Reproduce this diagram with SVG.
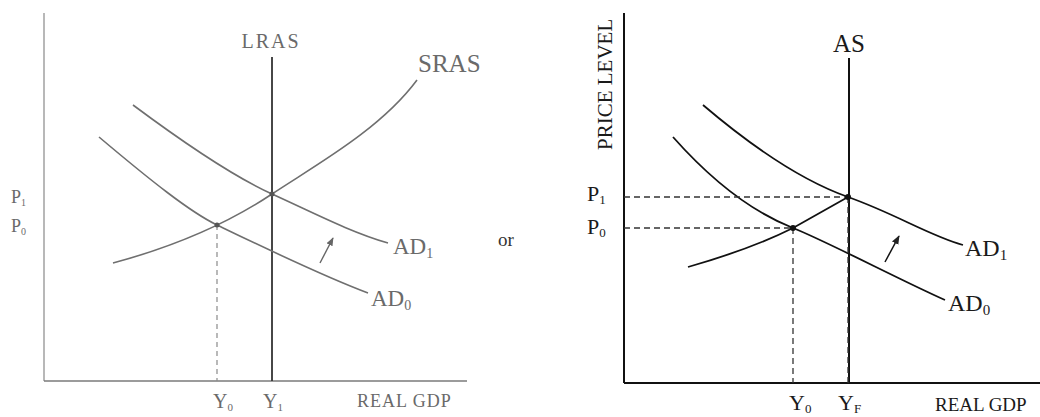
<svg xmlns="http://www.w3.org/2000/svg" width="1040" height="417" viewBox="0 0 1040 417">
<style>
.t{font-family:"Liberation Serif","Times New Roman",serif;}
.lg{fill:#6a6a6a;}
.rg{fill:#1a1a1a;}
.lc{fill:none;stroke:#6f6f6f;stroke-width:1.6;}
.rc{fill:none;stroke:#111;stroke-width:1.8;}
.ld{fill:none;stroke:#8a8a8a;stroke-width:1.2;stroke-dasharray:5 4;}
.rd{fill:none;stroke:#333;stroke-width:1.3;stroke-dasharray:6 4;}
</style>
<defs>
<marker id="ah" viewBox="0 0 10 10" refX="9" refY="5" markerWidth="6" markerHeight="6" orient="auto"><path d="M0,1 L10,5 L0,9 z" fill="#222"/></marker>
<marker id="ahl" viewBox="0 0 10 10" refX="9" refY="5" markerWidth="6" markerHeight="6" orient="auto"><path d="M0,1 L10,5 L0,9 z" fill="#666"/></marker>
</defs>
<rect width="1040" height="417" fill="#fff"/>

<g id="left-panel">
  <g id="left-axes">
    <line x1="44" y1="13" x2="44" y2="381" stroke="#9a9a9a" stroke-width="1.4"/>
    <line x1="44" y1="381" x2="467" y2="381" stroke="#7a7a7a" stroke-width="1.5"/>
  </g>
  <g id="left-lras">
    <line x1="272" y1="57" x2="272" y2="381" stroke="#333" stroke-width="1.8"/>
    <text class="t lg" x="271" y="48" font-size="20" letter-spacing="2" text-anchor="middle">LRAS</text>
  </g>
  <g id="left-sras">
    <path class="lc" d="M113,263 C180,245 230,222 272,194 S380,130 417,80"/>
    <text class="t lg" x="418" y="72" font-size="25">SRAS</text>
  </g>
  <g id="left-ad1">
    <path class="lc" d="M133,105 C180,140 230,175 272,194 S350,232 388,243"/>
    <text class="t lg" x="393" y="254" font-size="23">AD<tspan font-size="14" dy="4">1</tspan></text>
  </g>
  <g id="left-ad0">
    <path class="lc" d="M99,137 C150,180 190,212 217,225 S320,275 368,293"/>
    <text class="t lg" x="371" y="306" font-size="23">AD<tspan font-size="14" dy="4">0</tspan></text>
  </g>
  <g id="left-guides">
    <line class="ld" x1="217" y1="225" x2="217" y2="381"/>
  </g>
  <g id="left-points">
    <circle cx="217" cy="225" r="2.5" fill="#555"/>
    <circle cx="272" cy="194" r="2.5" fill="#555"/>
  </g>
  <g id="left-shift">
    <line x1="320" y1="263" x2="333" y2="238" stroke="#666" stroke-width="1.4" marker-end="url(#ahl)"/>
  </g>
  <g id="left-labels">
    <text class="t lg" x="11" y="203" font-size="18">P<tspan font-size="10" dy="3">1</tspan></text>
    <text class="t lg" x="11" y="232" font-size="18">P<tspan font-size="10" dy="3">0</tspan></text>
    <text class="t lg" x="213" y="408" font-size="20">Y<tspan font-size="11" dy="3">0</tspan></text>
    <text class="t lg" x="263" y="408" font-size="20">Y<tspan font-size="11" dy="3">1</tspan></text>
    <text class="t lg" x="357" y="407" font-size="18" letter-spacing="1">REAL GDP</text>
  </g>
</g>

<g id="or-label">
  <text class="t" x="498" y="246" font-size="19" fill="#333">or</text>
</g>

<g id="right-panel">
  <g id="right-axes">
    <line x1="624" y1="13" x2="624" y2="383" stroke="#111" stroke-width="2"/>
    <line x1="624" y1="383" x2="1040" y2="383" stroke="#111" stroke-width="2"/>
    <text class="t rg" transform="translate(612,150) rotate(-90)" x="0" y="0" font-size="21">PRICE LEVEL</text>
  </g>
  <g id="right-as">
    <line x1="849" y1="58" x2="849" y2="383" stroke="#111" stroke-width="2"/>
    <text class="t rg" x="849" y="52" font-size="25" text-anchor="middle">AS</text>
  </g>
  <g id="right-ad1">
    <path class="rc" d="M703,105 C750,145 800,180 848,197 S930,236 963,245"/>
    <text class="t rg" x="965" y="256" font-size="24">AD<tspan font-size="15" dy="4">1</tspan></text>
  </g>
  <g id="right-ad0">
    <path class="rc" d="M673,137 C720,190 760,215 793,228 S900,280 945,300"/>
    <text class="t rg" x="948" y="311" font-size="24">AD<tspan font-size="15" dy="4">0</tspan></text>
  </g>
  <g id="right-sras">
    <path class="rc" d="M688,267 C730,255 765,242 793,228 L848,197"/>
  </g>
  <g id="right-guides">
    <line class="rd" x1="624" y1="197" x2="848" y2="197"/>
    <line class="rd" x1="624" y1="228" x2="793" y2="228"/>
    <line class="rd" x1="793" y1="228" x2="793" y2="383"/>
    <line class="rd" x1="848" y1="197" x2="848" y2="383"/>
  </g>
  <g id="right-points">
    <circle cx="793" cy="228" r="3" fill="#111"/>
    <circle cx="848" cy="197" r="3" fill="#111"/>
  </g>
  <g id="right-shift">
    <line x1="885" y1="262" x2="899" y2="236" stroke="#111" stroke-width="1.5" marker-end="url(#ah)"/>
  </g>
  <g id="right-labels">
    <text class="t rg" x="587" y="201" font-size="22">P<tspan font-size="13" dy="3">1</tspan></text>
    <text class="t rg" x="587" y="234" font-size="22">P<tspan font-size="13" dy="3">0</tspan></text>
    <text class="t rg" x="789" y="410" font-size="22">Y<tspan font-size="13" dy="3">0</tspan></text>
    <text class="t rg" x="838" y="410" font-size="22">Y<tspan font-size="13" dy="3">F</tspan></text>
    <text class="t rg" x="935" y="411" font-size="19">REAL GDP</text>
  </g>
</g>
</svg>
